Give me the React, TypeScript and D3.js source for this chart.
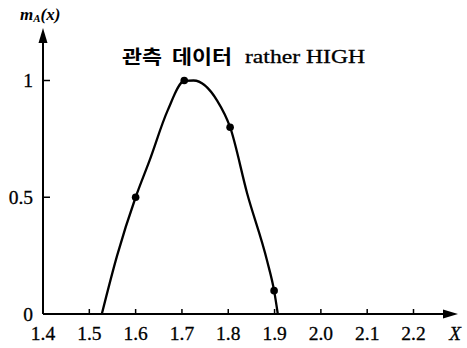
import React from "react";
import * as d3 from "d3";

// Membership function sample points (x, m_A(x))
const observedX = [1.6, 1.705, 1.804, 1.899];
const observedM = [0.5, 1.0, 0.8, 0.1];

const curveX = [1.527, 1.56, 1.6, 1.63, 1.669, 1.705, 1.725, 1.776, 1.804, 1.841, 1.884, 1.899, 1.907];
const curveM = [0, 0.25, 0.5, 0.657, 0.871, 0.998, 1.0, 0.914, 0.8, 0.515, 0.227, 0.1, 0];

const xTicks = [1.4, 1.5, 1.6, 1.7, 1.8, 1.9, 2.0, 2.1, 2.2];
const xTickLabels = ["1.4", "1.5", "1.6", "1.7", "1.8", "1.9", "2.0", "2.1", "2.2"];
const yTicks = [0, 0.5, 1];
const yTickLabels = ["0", "0.5", "1"];

const titleKoA = "관측";
const titleKoB = "데이터";
const titleEn = "rather HIGH";

export default function App() {
  const W = 467;
  const H = 348;
  const x = d3.scaleLinear().domain([1.4, 2.2]).range([43, 413.5]);
  const y = d3.scaleLinear().domain([0, 1]).range([314, 80.5]);

  const pts: [number, number][] = curveX.map((v, i) => [v, curveM[i]]);
  const line = d3
    .line<[number, number]>()
    .x((d) => x(d[0]))
    .y((d) => y(d[1]))
    .curve(d3.curveMonotoneX);

  const serif = "Liberation Serif, Times New Roman, serif";
  const ko = "Noto Sans CJK KR, sans-serif";
  const x0 = x(1.4);
  const y0 = y(0);

  return (
    <svg
      width={W}
      height={H}
      style={{ position: "absolute", left: 0, top: 0, background: "#fff" }}
    >
      {/* axes */}
      <line x1={x0} y1={y0} x2={448} y2={y0} stroke="#000" strokeWidth={2} />
      <path d={`M458,${y0} L443,${y0 - 4.5} L443,${y0 + 4.5} Z`} fill="#000" />
      <line x1={x0} y1={y0} x2={x0} y2={38} stroke="#000" strokeWidth={2} />
      <path d={`M${x0},28 L${x0 - 4.5},43 L${x0 + 4.5},43 Z`} fill="#000" />

      {/* x ticks */}
      {xTicks.map((t, i) => (
        <g key={"xt" + i}>
          {i > 0 && (
            <line x1={x(t)} y1={y0} x2={x(t)} y2={y0 - 5} stroke="#000" strokeWidth={1.5} />
          )}
          <text
            x={x(t)}
            y={340}
            textAnchor="middle"
            fontFamily={serif}
            fontSize={19.5}
            fill="#000"
            stroke="#000"
            strokeWidth={0.3}
          >
            {xTickLabels[i]}
          </text>
        </g>
      ))}
      <text
        x={455}
        y={340}
        textAnchor="middle"
        fontFamily={serif}
        fontStyle="italic"
        fontSize={19}
        fill="#000"
        stroke="#000"
        strokeWidth={0.3}
      >
        X
      </text>

      {/* y ticks */}
      {yTicks.map((t, i) => (
        <g key={"yt" + i}>
          {i > 0 && (
            <line x1={x0} y1={y(t)} x2={x0 + 7} y2={y(t)} stroke="#000" strokeWidth={1.5} />
          )}
          <text
            x={33}
            y={y(t) + 6.5}
            textAnchor="end"
            fontFamily={serif}
            fontSize={19.5}
            fill="#000"
            stroke="#000"
            strokeWidth={0.3}
          >
            {yTickLabels[i]}
          </text>
        </g>
      ))}
      <text x={20} y={20} fontFamily={serif} fontStyle="italic" fontWeight="bold" fontSize={17} fill="#000">
        m
        <tspan fontSize={11} dy={2}>A</tspan>
        <tspan dy={-2}>(x)</tspan>
      </text>

      {/* title */}
      <text x={122} y={64} fontFamily={ko} fontWeight="bold" fontSize={19} fill="#000" textLength={40} lengthAdjust="spacingAndGlyphs">
        {titleKoA}
      </text>
      <text x={172} y={64} fontFamily={ko} fontWeight="bold" fontSize={19} fill="#000" textLength={60} lengthAdjust="spacingAndGlyphs">
        {titleKoB}
      </text>
      <text
        x={245}
        y={63}
        fontFamily={serif}
        fontSize={19.5}
        fill="#000"
        stroke="#000"
        strokeWidth={0.3}
        textLength={120}
        lengthAdjust="spacingAndGlyphs"
      >
        {titleEn}
      </text>

      {/* membership curve */}
      <path d={line(pts) || ""} fill="none" stroke="#000" strokeWidth={2.3} />
      {observedX.map((v, i) => (
        <circle key={"p" + i} cx={x(v)} cy={y(observedM[i])} r={3.8} fill="#000" />
      ))}
    </svg>
  );
}
